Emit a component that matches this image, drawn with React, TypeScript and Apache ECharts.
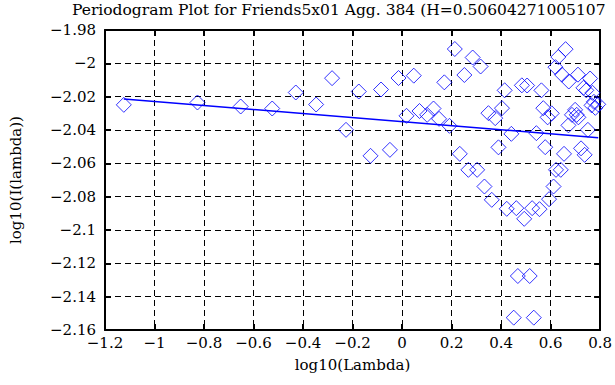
import React, { useEffect, useRef } from "react";
import * as echarts from "echarts";

const titleText = "Periodogram Plot for Friends5x01 Agg. 384 (H=0.50604271005107";
const xName = "log10(Lambda)";
const yName = "log10(I(lambda))";

const xVals = [
  -1.124, -0.8265, -0.6518, -0.5245, -0.4293, -0.3471, -0.2827, -0.2264, -0.1747, -0.1273,
  -0.0849, -0.049, -0.0143, 0.0181, 0.0474, 0.0705, 0.1014, 0.1272, 0.1496, 0.1708,
  0.1916, 0.2132, 0.2333, 0.2518, 0.2853, 0.268, 0.3035, 0.3174, 0.3328, 0.349,
  0.3625, 0.3764, 0.3895, 0.4037, 0.4145, 0.423, 0.4416, 0.4512, 0.4616, 0.4678,
  0.484, 0.4936, 0.5052, 0.5156, 0.5256, 0.5322, 0.5426, 0.5553, 0.563, 0.5707,
  0.5784, 0.5881, 0.5939, 0.6047, 0.612, 0.6197, 0.622, 0.6313, 0.6413, 0.6459,
  0.6544, 0.6606, 0.6737, 0.6722, 0.6864, 0.6992, 0.7057, 0.7107, 0.7123, 0.7231,
  0.7327, 0.7377, 0.7443, 0.7508, 0.7597, 0.7694, 0.7655, 0.7751, 0.7809, 0.7925,
];
const yVals = [
  -2.0249, -2.0235, -2.0259, -2.0271, -2.0175, -2.0247, -2.0089, -2.0399, -2.0169, -2.0555,
  -2.0157, -2.0519, -2.0088, -2.0315, -2.0074, -2.0286, -2.0309, -2.0271, -2.0333, -2.0114,
  -2.0375, -1.9914, -2.0543, -2.007, -1.9965, -2.0639, -2.0639, -2.0019, -2.0739, -2.0299,
  -2.0819, -2.0329, -2.0504, -2.0269, -2.0162, -2.0873, -2.0423, -2.1526, -2.0869, -2.1276,
  -2.0132, -2.0933, -2.0133, -2.1276, -2.0869, -2.1526, -2.0419, -2.0875, -2.0162, -2.0269,
  -2.0503, -2.0324, -2.0815, -2.03, -2.0739, -2.0023, -2.0639, -1.9962, -2.0639, -2.0068,
  -2.0543, -1.9915, -2.0109, -2.0372, -2.0309, -2.0279, -2.0309, -2.0068, -2.0324, -2.051,
  -2.0147, -2.0549, -2.0162, -2.0399, -2.0091, -2.0177, -2.0252, -2.0231, -2.0267, -2.0246,
];
const fitX = [-1.124, 0.7925];
const fitY = [-2.0214, -2.0446];

const FONT = "DejaVu Serif";
const FS = 15;

const fmt = (v: number) => String(Math.round(v * 100) / 100).replace("-", "\u2212");

export default function App() {
  const ref = useRef<HTMLDivElement>(null);
  useEffect(() => {
    document.body.style.margin = "0";
    const chart = echarts.init(ref.current!, undefined, { renderer: "svg" });
    const axisCommon = {
      type: "value" as const,
      axisLine: { show: true, onZero: false, lineStyle: { color: "#000", width: 2 } },
      axisTick: { show: true, inside: true, length: 6, lineStyle: { color: "#000", width: 2 } },
      splitLine: { show: false },
    };
    chart.setOption({
      animation: false,
      backgroundColor: "#fff",
      title: {
        text: titleText,
        left: 72,
        top: 2,
        padding: 0,
        textStyle: { fontFamily: FONT, fontSize: 15.5, fontWeight: "normal", color: "#000" },
      },
      grid: { left: 91, right: 7, top: 30, bottom: 55 },
      xAxis: [
        {
          ...axisCommon,
          min: -1.2,
          max: 0.8,
          interval: 0.2,
          name: xName,
          nameLocation: "middle",
          nameGap: 27,
          nameTextStyle: { fontFamily: FONT, fontSize: FS, color: "#000" },
          axisLabel: { formatter: fmt, fontFamily: FONT, fontSize: FS, color: "#000", margin: 5 },
          splitLine: { show: true, lineStyle: { color: "#000", type: [6, 4], width: 1 } },
        },
        {
          ...axisCommon,
          position: "top",
          min: -1.2,
          max: 0.8,
          interval: 0.2,
          axisLabel: { show: false },
        },
      ],
      yAxis: [
        {
          ...axisCommon,
          min: -2.16,
          max: -1.98,
          interval: 0.02,
          name: yName,
          nameLocation: "middle",
          nameGap: 82,
          nameTextStyle: { fontFamily: FONT, fontSize: FS, color: "#000" },
          axisLabel: { formatter: fmt, fontFamily: FONT, fontSize: FS, color: "#000", margin: 9 },
          splitLine: { show: true, lineStyle: { color: "#000", type: [6, 4], width: 1 } },
        },
        {
          ...axisCommon,
          position: "right",
          min: -2.16,
          max: -1.98,
          interval: 0.02,
          axisLabel: { show: false },
        },
      ],
      series: [
        {
          type: "scatter",
          symbol: "diamond",
          symbolSize: 15,
          data: xVals.map((x, i) => [x, yVals[i]]),
          itemStyle: { color: "none", borderColor: "#0000ff", borderWidth: 1 },
          z: 3,
        },
        {
          type: "line",
          data: fitX.map((x, i) => [x, fitY[i]]),
          showSymbol: false,
          symbol: "none",
          lineStyle: { color: "#0000ff", width: 1.5 },
          z: 4,
        },
      ],
    });
    return () => chart.dispose();
  }, []);
  return <div ref={ref} style={{ width: 615, height: 385 }} />;
}
